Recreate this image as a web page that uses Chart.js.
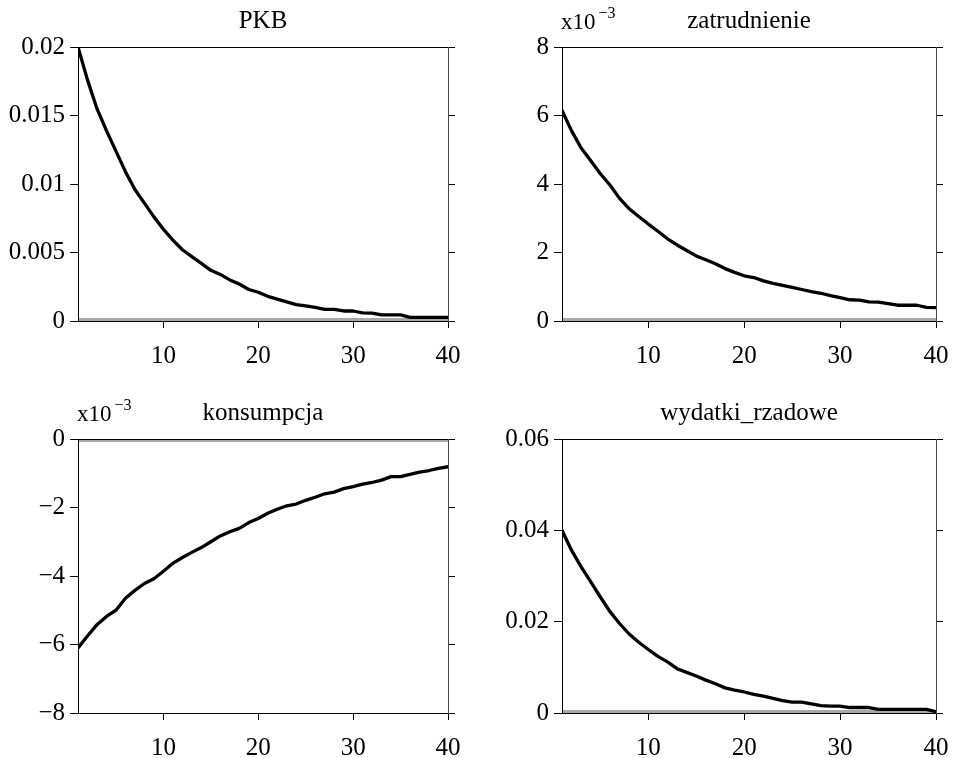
<!DOCTYPE html>
<html><head><meta charset="utf-8">
<script src="https://cdn.jsdelivr.net/npm/chart.js@4/dist/chart.umd.min.js"></script>
<style>
html,body{margin:0;padding:0;background:#fff;}
#wrap{position:relative;width:956px;height:758px;overflow:hidden;background:#fff;}
canvas{position:absolute;}
</style></head><body><div id="wrap">
<canvas id="c1" width="478" height="379" style="left:0;top:0"></canvas>
<canvas id="c2" width="478" height="379" style="left:478px;top:0"></canvas>
<canvas id="c3" width="478" height="379" style="left:0;top:379px"></canvas>
<canvas id="c4" width="478" height="379" style="left:478px;top:379px"></canvas>
</div>
<script>
// ---- data ----
const periods = [1,2,3,4,5,6,7,8,9,10,11,12,13,14,15,16,17,18,19,20,21,22,23,24,25,26,27,28,29,30,31,32,33,34,35,36,37,38,39,40];
const xTicks = [10,20,30,40];

const pkb = [0.0200,0.0176,0.0155,0.0139,0.0124,0.0109,0.0096,0.0086,0.0076,0.0067,0.0059,0.0052,0.0047,0.0042,0.0037,0.0034,0.0030,0.0027,0.0023,0.0021,0.0018,0.0016,0.0014,0.0012,0.0011,0.0010,0.00085,0.00085,0.00073,0.00073,0.0006,0.00058,0.00045,0.00044,0.00044,0.00027,0.00027,0.00027,0.00027,0.00027];
const pkbTicks = [0,0.005,0.01,0.015,0.02];

// values in units of 10^-3
const zatrudnienie = [6.15,5.55,5.05,4.68,4.30,3.97,3.58,3.28,3.05,2.83,2.62,2.40,2.22,2.06,1.90,1.79,1.67,1.53,1.42,1.32,1.27,1.17,1.10,1.04,0.98,0.92,0.86,0.81,0.74,0.68,0.62,0.61,0.56,0.55,0.51,0.46,0.46,0.46,0.40,0.39];
const zatrudnienieTicks = [0,2,4,6,8];

// values in units of 10^-3
const konsumpcja = [-6.10,-5.75,-5.42,-5.18,-5.00,-4.65,-4.42,-4.22,-4.08,-3.86,-3.63,-3.46,-3.31,-3.17,-3.00,-2.83,-2.71,-2.61,-2.44,-2.32,-2.17,-2.05,-1.95,-1.90,-1.79,-1.70,-1.60,-1.55,-1.45,-1.39,-1.32,-1.27,-1.20,-1.10,-1.10,-1.03,-0.97,-0.92,-0.86,-0.81];
const konsumpcjaTicks = [-8,-6,-4,-2,0];

const wydatki = [0.0400,0.0356,0.0320,0.0287,0.0254,0.0222,0.0196,0.0173,0.0155,0.0139,0.0124,0.0112,0.0097,0.0089,0.0081,0.0072,0.0064,0.0055,0.0050,0.0046,0.0041,0.0037,0.0032,0.0027,0.0024,0.0024,0.0020,0.0016,0.0015,0.0015,0.0012,0.0012,0.0012,0.0008,0.0008,0.0008,0.0008,0.0008,0.0008,0.0003];
const wydatkiTicks = [0,0.02,0.04,0.06];

const titles = ['PKB','zatrudnienie','konsumpcja','wydatki_rzadowe'];
const zeroLevel = 0;

// ---- styling ----
const FONT = '"Liberation Serif","Times New Roman",Times,serif';
const FS = 25;
Chart.defaults.font.family = FONT;
Chart.defaults.font.size = FS;
Chart.defaults.color = '#000';

function fmt(v){
  const r = +(+v).toFixed(6);
  if (r < 0) return '\u2212' + String(Math.abs(r));
  return String(r);
}

const expPlugin = {
  id: 'expLabel',
  afterDraw(chart, args, opts){
    if (!opts || !opts.text) return;
    const ctx = chart.ctx, a = chart.chartArea;
    ctx.save();
    ctx.fillStyle = '#000';
    ctx.textBaseline = 'alphabetic';
    ctx.textAlign = 'left';
    ctx.font = '23px ' + FONT;
    const x0 = a.left - 1;
    ctx.fillText('x10', x0, a.top - 18);
    const w = ctx.measureText('x10').width;
    ctx.font = '16px ' + FONT;
    ctx.fillText(opts.text, x0 + w + 3, a.top - 29);
    ctx.restore();
  }
};
const framePlugin = {
  id: 'frameTop',
  afterDraw(chart){
    const ctx = chart.ctx, a = chart.chartArea;
    ctx.save();
    ctx.strokeStyle = '#000';
    ctx.lineWidth = 1;
    ctx.beginPath();
    const y = Math.round(a.top) + 0.5;
    ctx.moveTo(a.left, y); ctx.lineTo(a.right, y);
    ctx.stroke();
    ctx.restore();
  }
};

function makePanel(id, title, values, yMin, yMax, yTicks, expText, area){
  const canvas = document.getElementById(id);
  const W = canvas.width, H = canvas.height;
  const setTicks = arr => s => { s.ticks = arr.map(v => ({value: v})); };
  const titleLine = FS * 1.2;
  const padTop = area.t - 17 - 0.3375 * FS - titleLine / 2;
  const padBottom = area.t - padTop - titleLine;
  return new Chart(canvas, {
    type: 'line',
    data: {
      datasets: [
        { data: periods.map((p, i) => ({x: p, y: values[i]})), borderColor: '#000', borderWidth: 3.3,
          pointRadius: 0, tension: 0, borderJoinStyle: 'round', borderCapStyle: 'round' },
        { data: periods.map(p => ({x: p, y: zeroLevel})), borderColor: '#a8a8a8', borderWidth: 6,
          pointRadius: 0, tension: 0, clip: 0 }
      ]
    },
    options: {
      responsive: false, animation: false, events: [],
      layout: { padding: 0 },
      plugins: {
        legend: { display: false }, tooltip: { enabled: false },
        title: { display: true, text: title, fullSize: false, color: '#000',
          font: { size: FS, weight: 'normal', family: FONT, lineHeight: 1.2 },
          padding: { top: padTop, bottom: padBottom } },
        expLabel: { text: expText }
      },
      scales: {
        x: { type: 'linear', min: 1, max: 40,
          afterBuildTicks: setTicks(xTicks),
          afterFit: s => { s.height = H - area.b; s.paddingLeft = 0; s.paddingRight = 0; },
          grid: { drawOnChartArea: false, drawTicks: true, tickLength: 7, color: '#000' },
          border: { display: true, color: '#000', z: 1 },
          ticks: { color: '#000', padding: 13, maxRotation: 0, autoSkip: false, callback: v => fmt(v) } },
        y: { type: 'linear', position: 'left', min: yMin, max: yMax,
          afterBuildTicks: setTicks(yTicks),
          afterFit: s => { s.width = area.l; s.paddingTop = 0; s.paddingBottom = 0; },
          grid: { drawOnChartArea: false, drawTicks: true, tickLength: 8, color: '#000' },
          border: { display: true, color: '#000', z: 1 },
          ticks: { color: '#000', padding: 5, autoSkip: false, callback: v => fmt(v) } },
        y2: { type: 'linear', position: 'right', min: yMin, max: yMax,
          afterBuildTicks: setTicks(yTicks),
          afterFit: s => { s.width = W - area.r; },
          grid: { drawOnChartArea: false, drawTicks: true, tickLength: 7, color: '#000' },
          border: { display: true, color: '#444', z: 1 },
          ticks: { display: false } }
      }
    },
    plugins: [expPlugin, framePlugin]
  });
}

makePanel('c1', titles[0], pkb, 0, 0.02, pkbTicks, '', {l: 78, r: 448, t: 47, b: 321});
makePanel('c2', titles[1], zatrudnienie, 0, 8, zatrudnienieTicks, '\u22123', {l: 84, r: 458, t: 47, b: 321});
makePanel('c3', titles[2], konsumpcja, -8, 0, konsumpcjaTicks, '\u22123', {l: 78, r: 448, t: 60, b: 334});
makePanel('c4', titles[3], wydatki, 0, 0.06, wydatkiTicks, '', {l: 84, r: 458, t: 60, b: 334});
</script>
</body></html>
